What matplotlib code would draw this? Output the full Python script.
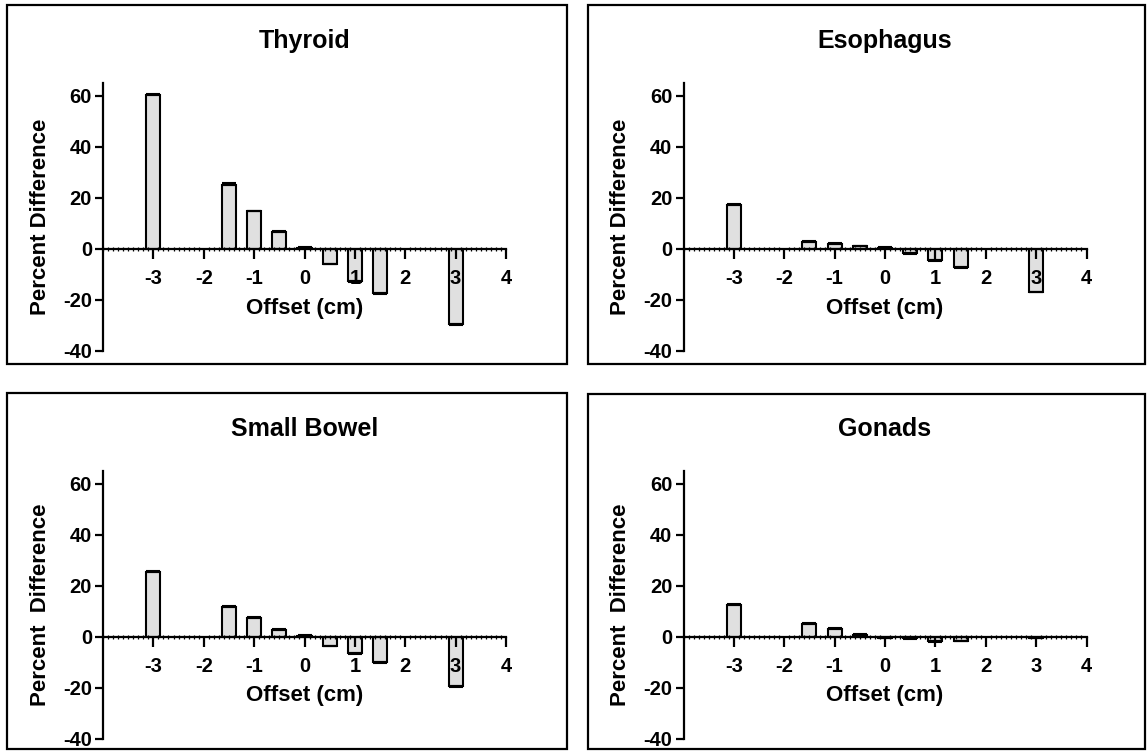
import numpy as np
import matplotlib
matplotlib.use("Agg")
import matplotlib.pyplot as plt
from matplotlib.patches import Rectangle
from matplotlib.ticker import MultipleLocator

plt.rcParams['font.family'] = ['Liberation Sans', 'DejaVu Sans']
plt.rcParams['font.weight'] = 'bold'
plt.rcParams['axes.unicode_minus'] = False

# offsets (cm) shared by all panels
offsets = [-3, -1.5, -1, -0.5, 0, 0.5, 1, 1.5, 3]

# percent difference per organ
thyroid = [60.3, 25.0, 14.8, 6.8, 0.3, -5.8, -12.5, -17.2, -29.5]
esophagus = [17.4, 2.8, 2.0, 1.0, 0.3, -1.6, -4.5, -7.1, -16.8]
small_bowel = [25.4, 11.6, 7.4, 2.8, 0.3, -3.5, -6.5, -10.0, -19.3]
gonads = [12.6, 5.0, 3.1, 0.9, -0.3, -0.5, -1.8, -1.5, -0.4]

# error bar sizes (small)
thyroid_err = [0.3, 0.7, 0.2, 0.2, 0.3, 0.2, 0.3, 0.3, 0.3]
esophagus_err = [0.2, 0.4, 0.3, 0.2, 0.3, 0.3, 0.2, 0.2, 0.2]
small_bowel_err = [0.3, 0.5, 0.4, 0.2, 0.3, 0.3, 0.2, 0.2, 0.3]
gonads_err = [0.3, 0.3, 0.3, 0.3, 0.3, 0.3, 0.3, 0.2, 0.2]

titles = ["Thyroid", "Esophagus", "Small Bowel", "Gonads"]
ylabels = ["Percent Difference", "Percent Difference",
           "Percent  Difference", "Percent  Difference"]
series = [thyroid, esophagus, small_bowel, gonads]
errors = [thyroid_err, esophagus_err, small_bowel_err, gonads_err]

W, H = 1147, 751
fig = plt.figure(figsize=(W / 100, H / 100), dpi=100)

# axes boxes in pixels: (left, top, right, bottom)
ax_px = [(103, 82.7, 506, 351), (683.5, 82.7, 1086.5, 351),
         (103, 470.7, 506, 738.7), (683.5, 470.7, 1086.5, 738.7)]
# panel frames in pixels: (left, top, right, bottom)
frame_px = [(7, 5, 567, 364), (588, 5, 1145, 364),
            (7, 393, 567, 749), (588, 394, 1145, 749)]

for (l, t, r, b) in frame_px:
    fig.patches.append(Rectangle((l / W, 1 - b / H), (r - l) / W, (b - t) / H,
                                 transform=fig.transFigure, fill=False,
                                 edgecolor='black', linewidth=1.6))

for i in range(4):
    l, t, r, b = ax_px[i]
    ax = fig.add_axes([l / W, 1 - b / H, (r - l) / W, (b - t) / H])
    ax.set_axisbelow(False)
    vals = np.array(series[i])
    err = np.array(errors[i])
    lo = np.where(vals < 0, err, 0)
    hi = np.where(vals >= 0, err, 0)
    ax.bar(offsets, vals, width=0.28, color='#e0e0e0', edgecolor='black',
           linewidth=1.5, zorder=1)
    ax.errorbar(offsets, vals, yerr=[lo, hi], fmt='none', ecolor='black',
                elinewidth=1.5, capsize=5, capthick=1.5, zorder=1.5)

    ax.set_xlim(-4, 4)
    ax.set_ylim(-40, 65.2)
    ax.spines['top'].set_visible(False)
    ax.spines['right'].set_visible(False)
    ax.spines['bottom'].set_position(('data', 0))
    for s in ('left', 'bottom'):
        ax.spines[s].set_linewidth(1.6)
    ax.set_yticks([-40, -20, 0, 20, 40, 60])
    ax.set_xticks([-3, -2, -1, 0, 1, 2, 3, 4])
    ax.xaxis.set_minor_locator(MultipleLocator(0.1))
    ax.tick_params(axis='y', length=6, width=1.6, pad=2, labelsize=14.5)
    ax.tick_params(axis='x', which='major', direction='out', length=7.5,
                   width=1.6, pad=7, labelsize=14.5)
    ax.tick_params(axis='x', which='minor', direction='inout', length=3,
                   width=0.9)
    for lab in ax.get_xticklabels() + ax.get_yticklabels():
        lab.set_fontweight('bold')

    ax.text(0.5, 1.128, titles[i], transform=ax.transAxes, ha='center',
            va='baseline', fontsize=18, fontweight='bold')
    ax.text(0.5, 0.139, "Offset (cm)", transform=ax.transAxes, ha='center',
            va='baseline', fontsize=16, fontweight='bold')
    ax.text(-0.156, 0.5, ylabels[i], transform=ax.transAxes, ha='center',
            va='center', rotation=90, fontsize=16, fontweight='bold')

fig.savefig("out.png", dpi=100)
